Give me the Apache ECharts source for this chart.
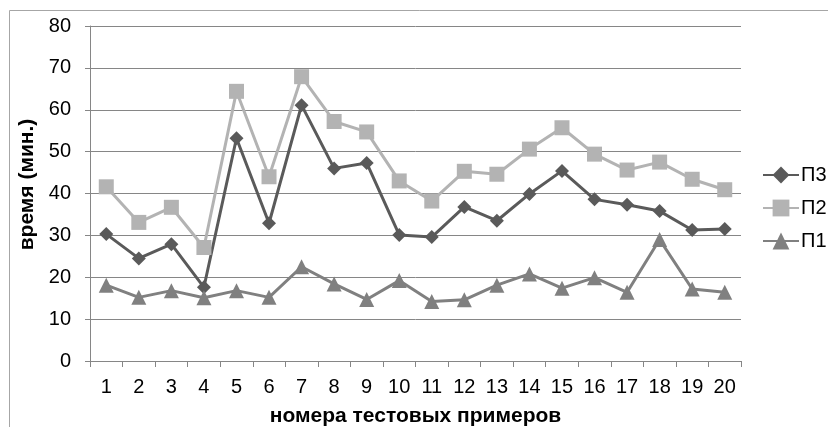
<!DOCTYPE html>
<html><head><meta charset="utf-8">
<script src="https://cdn.jsdelivr.net/npm/echarts@6/dist/echarts.min.js"></script>
<style>html,body{margin:0;padding:0;background:#fff}#c{width:828px;height:427px}</style>
</head><body><div id="c"></div>
<script>
var categories = ['1','2','3','4','5','6','7','8','9','10','11','12','13','14','15','16','17','18','19','20'];
var p3 = [30.3,24.5,27.9,17.6,53.2,32.9,61.1,46.0,47.3,30.1,29.6,36.8,33.5,39.9,45.4,38.6,37.3,35.8,31.3,31.5];
var p2 = [41.6,33.1,36.7,27.1,64.4,44.0,67.9,57.2,54.7,43.0,38.2,45.3,44.6,50.6,55.7,49.4,45.6,47.5,43.4,40.9];
var p1 = [18.1,15.2,16.8,15.1,16.8,15.2,22.5,18.4,14.7,19.2,14.2,14.6,18.1,20.8,17.4,19.9,16.4,29.0,17.2,16.4];
var yTicks = [0,10,20,30,40,50,60,70,80];

var font = 'Liberation Sans, Arial, sans-serif';
var chart = echarts.init(document.getElementById('c'));
function ser(name, data, color, symbol, size) {
  return {name: name, type: 'line', data: data, symbol: symbol, symbolSize: size,
    lineStyle: {color: color, width: 3}, itemStyle: {color: color}, animation: false};
}
chart.setOption({
  animation: false,
  graphic: [{type: 'rect', shape: {x: 9.5, y: 10.5, width: 900, height: 500},
    style: {fill: 'none', stroke: '#a6a6a6', lineWidth: 1}, silent: true}],
  grid: {left: 90, right: 87, top: 26, bottom: 66, containLabel: false, outerBoundsMode: 'none'},
  legend: {orient: 'vertical', left: 757, top: 160, itemGap: 13, itemWidth: 36, itemHeight: 21,
    textStyle: {fontFamily: font, fontSize: 20, color: '#000', padding: [0,0,0,-3]},
    data: [{name: 'П3'}, {name: 'П2'}, {name: 'П1'}]},
  xAxis: {type: 'category', data: categories, boundaryGap: true,
    name: 'номера тестовых примеров', nameLocation: 'middle', nameGap: 45,
    nameTextStyle: {fontFamily: font, fontSize: 21, fontWeight: 'bold', color: '#000'},
    axisLine: {lineStyle: {color: '#868686', width: 1}},
    axisTick: {show: true, length: 6, lineStyle: {color: '#868686'}},
    axisLabel: {fontFamily: font, fontSize: 20, color: '#000', margin: 16}},
  yAxis: {type: 'value', min: 0, max: 80, interval: 10,
    name: 'время (мин.)', nameLocation: 'middle', nameGap: 46, nameRotate: 90,
    nameTextStyle: {fontFamily: font, fontSize: 21, fontWeight: 'bold', color: '#000', padding: [0,0,0,18]},
    axisLine: {show: true, lineStyle: {color: '#868686', width: 1}},
    axisTick: {show: true, length: 5, inside: false, lineStyle: {color: '#868686'}},
    splitLine: {lineStyle: {color: '#868686', width: 1}},
    axisLabel: {fontFamily: font, fontSize: 20, color: '#000', margin: 19,
      formatter: function (v) { return yTicks.indexOf(v) >= 0 ? String(v) : ''; }}},
  series: [
    ser('П3', p3, '#5a5a5a', 'diamond', 14),
    ser('П2', p2, '#b3b3b3', 'rect', 15),
    ser('П1', p1, '#808080', 'triangle', 15)
  ]
});
</script></body></html>
